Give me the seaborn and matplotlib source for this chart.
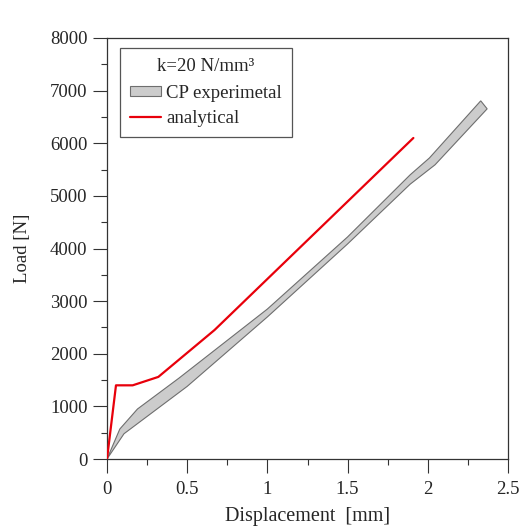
import numpy as np
import pandas as pd
import matplotlib
matplotlib.use("Agg")
import matplotlib.pyplot as plt
import matplotlib.ticker as mticker
from matplotlib.patches import Patch
from matplotlib.lines import Line2D
import seaborn as sns

# analytical curve
x_analytical = [0.0, 0.056, 0.16, 0.32, 0.67, 1.91]
y_analytical = [0, 1400, 1400, 1560, 2450, 6100]

# experimental band (upper and lower bounds)
x_upper = [0.0, 0.08, 0.19, 0.45, 1.0, 1.5, 1.89, 2.01, 2.33]
y_upper = [0, 570, 950, 1540, 2850, 4220, 5400, 5720, 6806]
x_lower = [0.0, 0.106, 0.5, 1.0, 1.5, 1.89, 2.045, 2.37]
y_lower = [0, 480, 1380, 2700, 4087, 5222, 5590, 6654]

sns.set_style("ticks")
plt.rcParams['font.family'] = ['Liberation Serif', 'DejaVu Serif']

fig = plt.figure(figsize=(5.21, 5.29), dpi=100)
ax = fig.add_axes([107 / 521, 1 - 459 / 529, 401 / 521, 421 / 529])

# band as a polygon: upper edge then lower edge reversed
poly_x = x_upper + x_lower[::-1]
poly_y = y_upper + y_lower[::-1]
ax.fill(poly_x, poly_y, facecolor='#cccccc', edgecolor='#6e6e6e', linewidth=0.8, zorder=2)

df = pd.DataFrame({'Displacement': x_analytical, 'Load': y_analytical})
sns.lineplot(data=df, x='Displacement', y='Load', color='#e8000b', linewidth=1.6,
             sort=False, ax=ax, zorder=3)

ax.set_xlim(0, 2.5)
ax.set_ylim(0, 8000)
ax.xaxis.set_major_locator(mticker.MultipleLocator(0.5))
ax.xaxis.set_minor_locator(mticker.MultipleLocator(0.25))
ax.yaxis.set_major_locator(mticker.MultipleLocator(1000))
ax.yaxis.set_minor_locator(mticker.MultipleLocator(500))
ax.xaxis.set_major_formatter(mticker.FormatStrFormatter('%g'))
ax.tick_params(which='major', direction='out', length=10, width=0.8, labelsize=13.5,
               color='#333333', pad=4)
ax.tick_params(axis='x', which='major', pad=6)
ax.tick_params(which='minor', direction='out', length=4.5, width=0.8, color='#333333')
for s in ax.spines.values():
    s.set_visible(True)
    s.set_linewidth(0.9)
    s.set_color('#333333')

ax.set_xlabel('Displacement  [mm]', fontsize=14.5, labelpad=6)
ax.set_ylabel('Load [N]', fontsize=13.5, labelpad=14)

handles = [Patch(facecolor='#cccccc', edgecolor='#6e6e6e', linewidth=0.8),
           Line2D([0], [0], color='#e8000b', linewidth=1.6)]
leg = ax.legend(handles, ['CP experimetal', 'analytical'], title='k=20 N/mm³',
                loc='upper left', bbox_to_anchor=(0.032, 0.976), fontsize=13.5,
                title_fontsize=13.5, fancybox=False, framealpha=1,
                edgecolor='#555555', borderpad=0.55, handlelength=1.65,
                handleheight=0.45, handletextpad=0.27, labelspacing=0.42,
                borderaxespad=0)
leg.get_frame().set_linewidth(0.9)
leg._legend_box.sep = 7

fig.savefig('out.png', dpi=100)
